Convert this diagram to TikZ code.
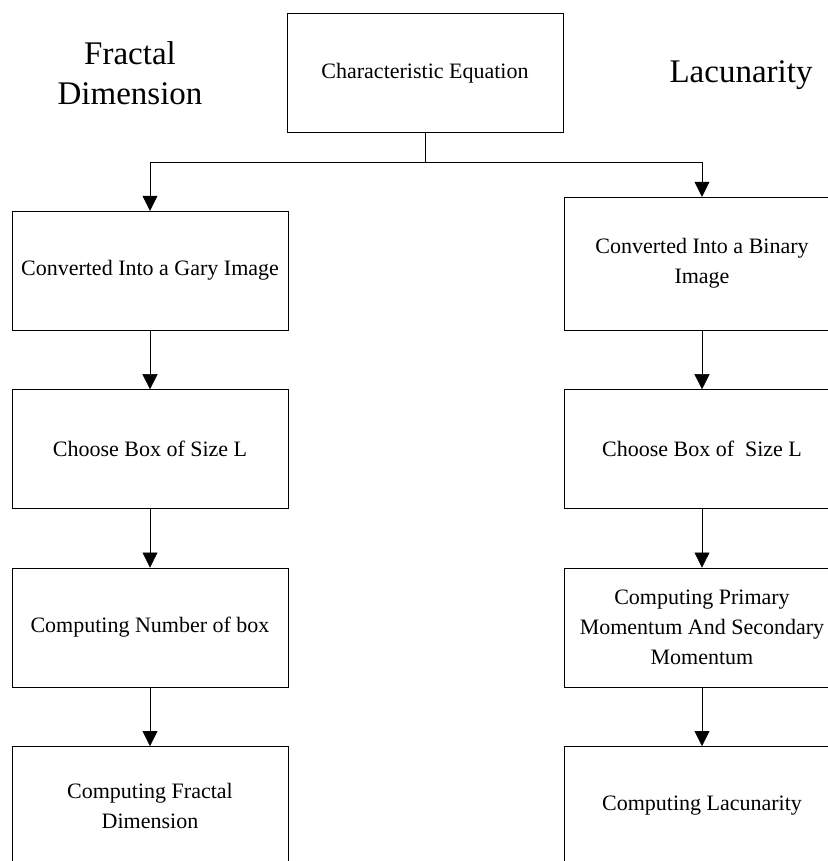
\documentclass[tikz,border=0pt]{standalone}
\usepackage{fontspec}
\setmainfont{Liberation Serif}
\usetikzlibrary{positioning,arrows.meta}
\tikzset{
->,
>={Triangle[length=15pt,width=15pt]},
line width=0.8pt,
node distance=59pt,
}

\begin{document}
\begin{tikzpicture}
    [block/.style={draw, rectangle, align=center, minimum width=276pt,
        minimum height=119pt, font=\fontsize{22pt}{30pt}\selectfont},
    title/.style={align=center, font=\fontsize{33pt}{40pt}\selectfont}
    ]

    \useasboundingbox (0,0) rectangle (827pt,-861pt);

    \node [block] (char) at (425pt,-73pt) {Characteristic Equation};

    \node [title] (fd) at (130pt,-73pt) {Fractal\\Dimension};
    \node [title] (lac) at (741pt,-75pt) {Lacunarity};

    % fractal dimension side
    \node [block] (lgray) at (150pt,-270.5pt) {Converted Into a Gary Image};
    \node [block] (lbox) [below=of lgray] {Choose Box of Size L};
    \node [block] (lcount) [below=of lbox] {Computing Number of box};
    \node [block] (lfd) [below=of lcount] {Computing Fractal\\Dimension};

    % lacunarity side
    \node [block, minimum height=133pt] (rbin) at (702pt,-263.5pt)
        {Converted Into a Binary\\Image};
    \node [block] (rbox) [below=of rbin] {Choose Box of\ \ Size L};
    \node [block] (rmom) [below=of rbox]
        {Computing Primary\\Momentum And Secondary\\Momentum};
    \node [block] (rlac) [below=of rmom] {Computing Lacunarity};

    \draw[-] (char.south) -- ++(0,-30pt) coordinate (split);
    \draw[->] (split) -| (lgray.north);
    \draw[->] (split) -| (rbin.north);

    \draw[->] (lgray) -- (lbox);
    \draw[->] (lbox) -- (lcount);
    \draw[->] (lcount) -- (lfd);

    \draw[->] (rbin) -- (rbox);
    \draw[->] (rbox) -- (rmom);
    \draw[->] (rmom) -- (rlac);

\end{tikzpicture}
\end{document}
